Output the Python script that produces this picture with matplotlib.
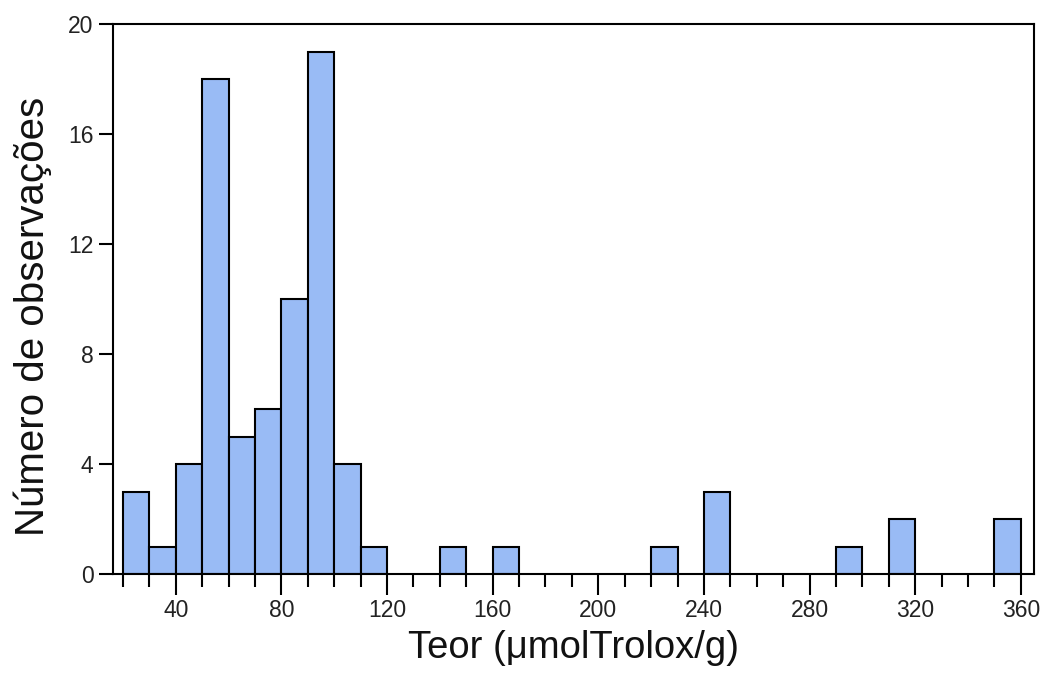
import numpy as np
from matplotlib import pyplot as plt
from matplotlib.ticker import MultipleLocator

plt.rcParams['font.family'] = ['Liberation Sans', 'DejaVu Sans']

# histogram bins (left edges, width 10) and counts
bin_left = [20, 30, 40, 50, 60, 70, 80, 90, 100, 110, 140, 160, 220, 240, 290, 310, 350]
counts = [3, 1, 4, 18, 5, 6, 10, 19, 4, 1, 1, 1, 1, 3, 1, 2, 2]
bin_width = 10

xticks = [40, 80, 120, 160, 200, 240, 280, 320, 360]
yticks = [0, 4, 8, 12, 16, 20]

fig = plt.figure(figsize=(10.49, 6.75), dpi=100)
ax = fig.add_axes([0.1077, 0.1496, 0.8780, 0.8148])

ax.bar(bin_left, counts, width=bin_width, align='edge',
       color='#99bbf5', edgecolor='black', linewidth=1.5)

ax.set_xlim(16.2, 365)
ax.set_ylim(0, 20)
ax.set_xticks(xticks)
ax.xaxis.set_minor_locator(MultipleLocator(10))
ax.set_yticks(yticks)

ax.tick_params(axis='x', which='major', direction='out', length=15, width=1.5,
               labelsize=16.5, pad=3, labelcolor='#222222')
ax.tick_params(axis='x', which='minor', direction='out', length=9, width=1.5)
ax.tick_params(axis='y', direction='out', length=10, width=1.5, labelsize=16.5,
               pad=4, labelcolor='#222222')
for s in ax.spines.values():
    s.set_linewidth(1.5)

ax.set_xlabel('Teor (μmolTrolox/g)', fontsize=27.5, labelpad=6, color='#111111')
ax.set_ylabel('Número de observações', fontsize=29, color='#111111')
ax.yaxis.set_label_coords(-0.066, 0.468)

fig.savefig('out.png', dpi=100)
